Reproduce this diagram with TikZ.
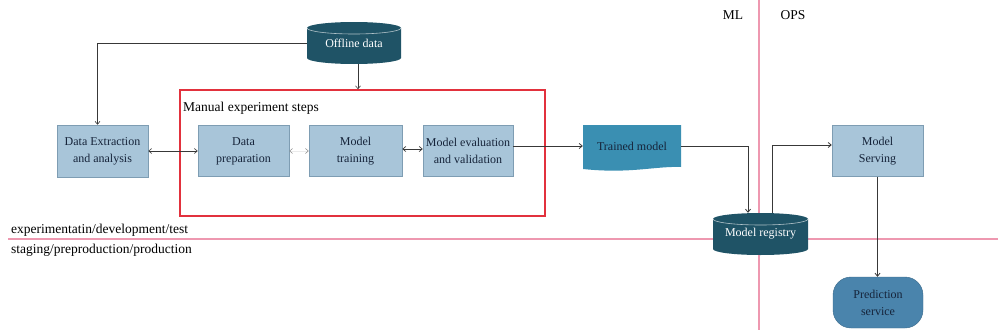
\documentclass[tikz,border=0pt]{standalone}
\usepackage{fontspec}
\setmainfont{Liberation Serif}
\usetikzlibrary{arrows.meta}
\definecolor{boxblue}{HTML}{A8C5D9}
\definecolor{boxedge}{HTML}{7E9DB3}
\definecolor{cylcol}{HTML}{1F5366}
\definecolor{tmblue}{HTML}{3A8FB2}
\definecolor{psblue}{HTML}{4A84AC}
\definecolor{txtcol}{HTML}{16243A}
\definecolor{pinkline}{HTML}{EE98B0}
\definecolor{redbox}{HTML}{E2313D}
\newcommand\mycyl[4]{%
  \fill[cylcol] ({#1-#3/2},{#2+#4/2-6}) -- ({#1-#3/2},{#2-#4/2+6})
    arc[start angle=180,end angle=360,x radius={#3/2},y radius=6]
    -- ({#1+#3/2},{#2+#4/2-6})
    arc[start angle=0,end angle=180,x radius={#3/2},y radius=6] -- cycle;
  \draw[white!65!cylcol,line width=0.6pt] ({#1-#3/2},{#2+#4/2-6})
    arc[start angle=180,end angle=360,x radius={#3/2},y radius=6];
}
\begin{document}
\begin{tikzpicture}[x=1pt,y=1pt,
  lbox/.style={draw=boxedge,line width=0.5pt,fill=boxblue,text=txtcol,
    minimum width=91pt,minimum height=51pt,align=center,
    font=\fontsize{12}{17}\selectfont,inner sep=1pt},
  cyltext/.style={text=white,font=\fontsize{12}{16}\selectfont,inner sep=0pt},
  lbl/.style={font=\fontsize{13.5}{16}\selectfont,inner sep=0pt},
  conn/.style={draw=black!78,line width=0.8pt},
  tip/.style={-{Straight Barb[length=3pt,width=5pt]}},
  both/.style={{Straight Barb[length=3pt,width=5pt]}-{Straight Barb[length=3pt,width=5pt]}},
  divider/.style={draw=pinkline,line width=1.1pt}
]
\useasboundingbox (0,0) rectangle (998,333);
% dividers
\draw[divider] (759,333) -- (759,3);
\draw[divider] (8,94) -- (998,94);
% cylinders
\mycyl{354}{290}{94}{42}
\node[cyltext,minimum width=94pt,minimum height=42pt] (off) at (354,290) {Offline data};
\mycyl{760.5}{99}{95}{42}
\node[cyltext,minimum width=95pt,minimum height=42pt] (mr) at (760.5,99) {Model registry};
% red box
\node[draw=redbox,line width=1.5pt,minimum width=365pt,minimum height=126pt,inner sep=0pt] (manual) at (362.5,180) {};
\node[lbl,anchor=west] (mes) at (183,225) {Manual experiment steps};
% process boxes
\node[lbox,minimum height=52pt] (dx) at (102.5,182) {Data Extraction\\and analysis};
\node[lbox] (dp) at (243.5,182) {Data\\preparation};
\node[lbox,minimum width=93pt] (mt) at (355.5,182) {Model\\training};
\node[lbox,minimum width=90pt] (me) at (468,182) {Model evaluation\\and validation};
\node[lbox] (ms) at (877.5,182) {Model\\Serving};
\node[draw=psblue!80!black,line width=0.4pt,fill=psblue,text=txtcol,rounded corners=18pt,
  minimum width=90pt,minimum height=51pt,align=center,
  font=\fontsize{12}{17}\selectfont] (ps) at (878,30.5) {Prediction\\service};
% trained model (document shape)
\fill[tmblue] (583,208) -- (681,208) -- (681,166)
  .. controls (655,167) and (630,159) .. (583,164) -- cycle;
\node[text=txtcol,font=\fontsize{12}{16}\selectfont,minimum width=98pt,minimum height=42pt,inner sep=0pt] (tm) at (632,187) {Trained model};
% labels
\node[lbl] (ml) at (733,318) {ML};
\node[lbl] (ops) at (793,318) {OPS};
\node[lbl,anchor=west] (exp) at (11,103) {experimentatin/development/test};
\node[lbl,anchor=west] (stg) at (11,83) {staging/preproduction/production};
% connectors
\draw[conn,tip,line width=0.6pt] (off.west) -| ([xshift=-5pt]dx.north);
\draw[conn,tip,line width=0.6pt] ([xshift=4pt]off.south) -- ([xshift=4pt]off.south |- manual.north);
\draw[conn,both,line width=0.6pt] (dx.east) -- (dp.west);
\draw[draw=black!8,line width=0.5pt,{Straight Barb[length=3pt,width=5pt,color=black!45]}-{Straight Barb[length=3pt,width=5pt,color=black!45]}] (dp.east) -- (mt.west);
\draw[conn,both,line width=0.7pt] ([yshift=2pt]mt.east) -- ([yshift=2pt]me.west);
\draw[conn,tip] (me.east |- tm.west) -- (tm.west);
\draw[conn,tip] (tm.east) -| ([xshift=-12.5pt]mr.north);
\draw[conn,tip] ([xshift=11.5pt]mr.north) |- ([yshift=6pt]ms.west);
\draw[conn,tip] (ms.south) -- (ms.south |- ps.north);
\end{tikzpicture}
\end{document}
